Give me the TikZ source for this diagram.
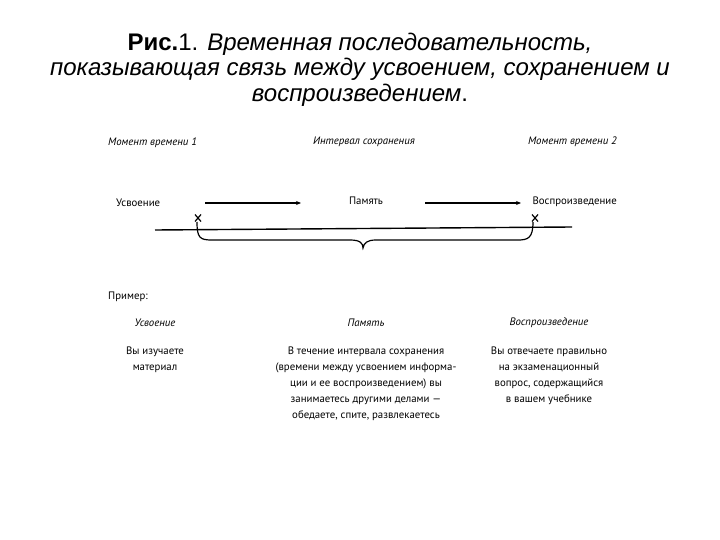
\documentclass[tikz,border=0pt]{standalone}
\usepackage{fontspec}
\setmainfont{Liberation Sans}
\newfontfamily\smallfont{PT Sans}
\usetikzlibrary{arrows.meta}
\begin{document}
\begin{tikzpicture}[x=1pt,y=-1pt,
  ttl/.style={font=\fontsize{24}{28}\selectfont, align=center, anchor=center, inner sep=0},
  lbl/.style={font=\smallfont\fontsize{10.8}{16}\selectfont, inner sep=0, anchor=center},
  ilbl/.style={lbl, font=\smallfont\itshape\fontsize{10.8}{16}\selectfont},
  txt/.style={lbl, align=center, anchor=north},
  arr/.style={line width=1.3pt, -{Stealth[length=5pt,width=4pt]}},
  ln/.style={line width=1.4pt},
  xm/.style={line width=1.2pt}]
\useasboundingbox (0,0) rectangle (720,540);
% title
\node[ttl] (t1) at (360,44) {\textbf{Рис.}1. \textit{Временная последовательность,}};
\node[ttl] (t2) at (360,69) {\textit{показывающая связь между усвоением, сохранением и}};
\node[ttl] (t3) at (360,95) {\textit{воспроизведением}.};
% top labels
\node[ilbl, anchor=west] (m1) at (108,143) {Момент времени 1};
\node[ilbl] (ints) at (364,142) {Интервал сохранения};
\node[ilbl, anchor=east] (m2) at (617,142) {Момент времени 2};
% row
\node[lbl, anchor=west] (u) at (116,203) {Усвоение};
\node[lbl] (p) at (366,201) {Память};
\node[lbl, anchor=east] (v) at (617,202) {Воспроизведение};
\coordinate (a1s) at (205,203); \coordinate (a1e) at (301,203);
\coordinate (a2s) at (425,203); \coordinate (a2e) at (521,203);
\draw[arr] (a1s) -- (a1e);
\draw[arr] (a2s) -- (a2e);
% x marks
\coordinate (x1) at (198,218); \coordinate (x2) at (535,218);
\draw[xm] ([shift={(-3,-3.5)}]x1) -- ([shift={(3,3.5)}]x1) ([shift={(3,-3.5)}]x1) -- ([shift={(-3,3.5)}]x1);
\draw[xm] ([shift={(-3,-3.5)}]x2) -- ([shift={(3,3.5)}]x2) ([shift={(3,-3.5)}]x2) -- ([shift={(-3,3.5)}]x2);
% time line
\coordinate (l1) at (155,230); \coordinate (l2) at (572,227);
\draw[ln] (l1) -- (l2);
% brace
\coordinate (b1) at (197,222); \coordinate (bt) at (363,248); \coordinate (b2) at (533,222);
\draw[line width=1.2pt] (b1) .. controls (197,238) and (200,240) .. (212,240)
  -- (350,240) .. controls (360,240) and (363,243) .. (bt)
  .. controls (364,243) and (367,240) .. (376,240)
  -- (518,240) .. controls (528,240) and (533,238) .. (b2);
% example
\node[lbl, anchor=west] (pr) at (108,297) {Пример:};
\node[ilbl] (h1) at (155,323) {Усвоение};
\node[ilbl] (h2) at (366,323) {Память};
\node[ilbl] (h3) at (549,323) {Воспроизведение};
\node[txt] (c1) at (155,347) {Вы изучаете\\материал};
\node[txt] (c2) at (366,347) {В течение интервала сохранения\\(времени между усвоением информа-\\ции и ее воспроизведением) вы\\занимаетесь другими делами —\\обедаете, спите, развлекаетесь};
\node[txt] (c3) at (549,347) {Вы отвечаете правильно\\на экзаменационный\\вопрос, содержащийся\\в вашем учебнике};
\end{tikzpicture}
\end{document}
